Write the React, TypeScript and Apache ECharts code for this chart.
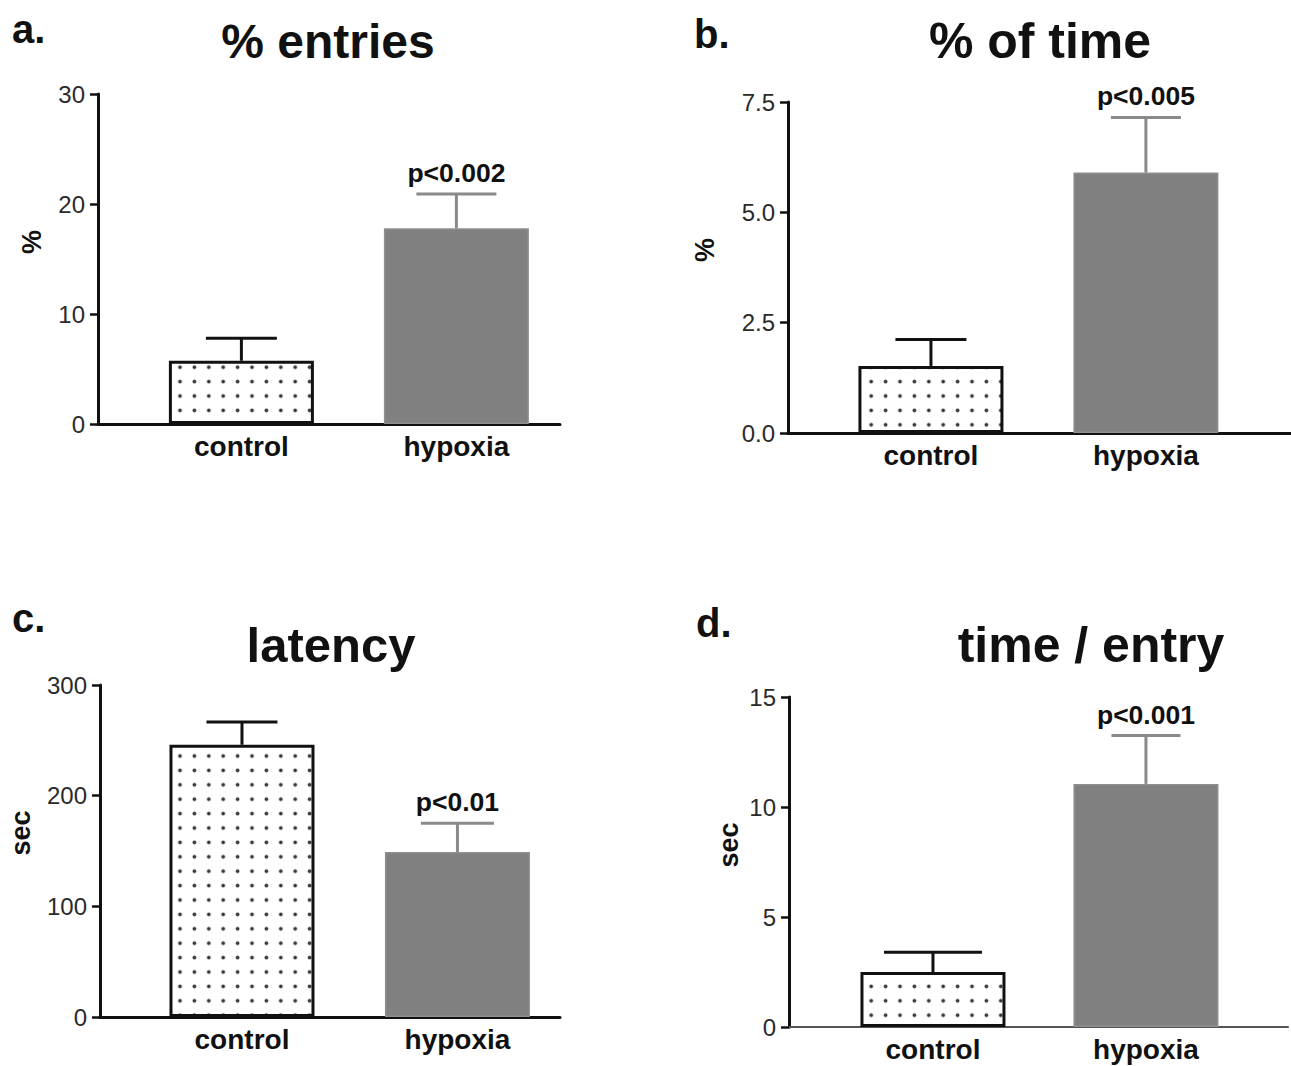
import React, { useEffect, useRef } from 'react';
import * as echarts from 'echarts';

// ---------- data ----------
const categories = ['control', 'hypoxia'];

const entriesMean = [5.75, 17.8];
const entriesErr = [2.05, 3.1];

const timePctMean = [1.52, 5.9];
const timePctErr = [0.6, 1.25];

const latencyMean = [246, 149];
const latencyErr = [20.5, 26];

const timePerEntryMean = [2.5, 11.05];
const timePerEntryErr = [0.9, 2.2];

const panelLetters = ['a.', 'b.', 'c.', 'd.'];
const panelTitles = ['% entries', '% of time', 'latency', 'time / entry'];
const yAxisNames = ['%', '%', 'sec', 'sec'];
const pValueLabels = ['p<0.002', 'p<0.005', 'p<0.01', 'p<0.001'];
const yMaxes = [30, 7.5, 300, 15];
const yIntervals = [10, 2.5, 100, 5];
const yDecimals = [0, 1, 0, 0];

const panelMeans = [entriesMean, timePctMean, latencyMean, timePerEntryMean];
const panelErrs = [entriesErr, timePctErr, latencyErr, timePerEntryErr];

// ---------- layout / style ----------
const FONT = "'Liberation Sans', Arial, Helvetica, sans-serif";

const layout = [
  { grid: { left: 98, top: 94, width: 462, height: 330 }, xMin: -0.667, xMax: 1.482,
    letter: [12, 29], title: [328, 41], titleSize: 48, yName: [32, 242], capW: [71, 80], xLineW: 3, xLineC: '#111' },
  { grid: { left: 788, top: 102, width: 503, height: 331 }, xMin: -0.665, xMax: 1.675,
    letter: [694, 34], title: [1040, 41], titleSize: 50, yName: [705, 250], capW: [71, 70], xLineW: 3, xLineC: '#111' },
  { grid: { left: 100, top: 685, width: 460, height: 332 }, xMin: -0.659, xMax: 1.476,
    letter: [12, 618], title: [331, 645], titleSize: 49, yName: [21, 833], capW: [71, 73], xLineW: 3, xLineC: '#111' },
  { grid: { left: 789, top: 697, width: 499, height: 330 }, xMin: -0.676, xMax: 1.667,
    letter: [696, 623], title: [1091, 645], titleSize: 50, yName: [729, 845], capW: [98, 69], xLineW: 2, xLineC: '#555' },
];

function dotPattern() {
  const s = 14.4;
  const svg =
    `<svg xmlns='http://www.w3.org/2000/svg' width='${s}' height='${s}' viewBox='0 0 ${s} ${s}'>` +
    `<rect width='${s}' height='${s}' fill='#ffffff'/>` +
    `<circle cx='${s / 2}' cy='${s / 2}' r='1.9' fill='#3a3a3a'/></svg>`;
  return {
    image: 'data:image/svg+xml;charset=utf-8,' + encodeURIComponent(svg),
    repeat: 'repeat',
    imageWidth: s,
    imageHeight: s,
  };
}

function buildOption() {
  const pattern = dotPattern();
  const grids: any[] = [];
  const xAxes: any[] = [];
  const yAxes: any[] = [];
  const series: any[] = [];
  const graphics: any[] = [];

  layout.forEach((L, i) => {
    grids.push({ ...L.grid, containLabel: false, outerBoundsMode: 'none' });
    xAxes.push({
      type: 'value',
      gridIndex: i,
      min: L.xMin,
      max: L.xMax,
      position: 'bottom',
      axisLine: { show: true, onZero: false, lineStyle: { color: L.xLineC, width: L.xLineW } },
      axisTick: { show: false },
      splitLine: { show: false },
      axisLabel: {
        customValues: [0, 1],
        formatter: (v: number) => categories[Math.round(v)] ?? '',
        fontSize: 28,
        fontWeight: 'bold',
        fontFamily: FONT,
        color: '#111',
        margin: 8,
      },
    });
    yAxes.push({
      type: 'value',
      gridIndex: i,
      min: 0,
      max: yMaxes[i],
      interval: yIntervals[i],
      position: 'left',
      axisLine: { show: true, onZero: false, lineStyle: { color: '#111', width: 3 } },
      axisTick: { show: true, length: 8, lineStyle: { color: '#111', width: 2.5 } },
      splitLine: { show: false },
      axisLabel: {
        formatter: (v: number) => v.toFixed(yDecimals[i]),
        fontSize: 24,
        fontFamily: FONT,
        color: '#2a2a2a',
        margin: 13,
      },
    });

    const means = panelMeans[i];
    const errs = panelErrs[i];

    series.push({
      type: 'bar',
      xAxisIndex: i,
      yAxisIndex: i,
      barWidth: 145,
      z: 2,
      data: categories.map((_, k) => ({
        value: [k, means[k]],
        itemStyle:
          k === 0
            ? { color: pattern, borderColor: '#111', borderWidth: 3 }
            : { color: '#808080', borderColor: '#8e8e8e', borderWidth: 1.5 },
      })),
    });

    series.push({
      type: 'custom',
      xAxisIndex: i,
      yAxisIndex: i,
      z: 5,
      clip: false,
      data: categories.map((_, k) => [k, means[k], errs[k]]),
      encode: { x: 0, y: 1 },
      renderItem: (params: any, api: any) => {
        const x = api.value(0);
        const v = api.value(1);
        const e = api.value(2);
        const k = params.dataIndex;
        const base = api.coord([x, v]);
        const top = api.coord([x, v + e]);
        const color = k === 0 ? '#111' : '#8a8a8a';
        const cw = L.capW[k];
        const children: any[] = [
          { type: 'line', shape: { x1: base[0], y1: base[1], x2: top[0], y2: top[1] }, style: { stroke: color, lineWidth: 3 } },
          { type: 'line', shape: { x1: top[0] - cw / 2, y1: top[1], x2: top[0] + cw / 2, y2: top[1] }, style: { stroke: color, lineWidth: 3 } },
        ];
        if (k === 1) {
          children.push({
            type: 'text',
            x: top[0],
            y: top[1] - 21,
            style: {
              text: pValueLabels[i],
              fill: '#111',
              fontSize: 26.5,
              fontWeight: 'bold',
              fontFamily: FONT,
              align: 'center',
              verticalAlign: 'middle',
              textAlign: 'center',
              textVerticalAlign: 'middle',
            },
          });
        }
        return { type: 'group', children };
      },
    });

    graphics.push({
      type: 'text',
      x: L.letter[0],
      y: L.letter[1],
      style: {
        text: panelLetters[i], fill: '#111', fontSize: 40, fontWeight: 'bold', fontFamily: FONT,
        align: 'left', verticalAlign: 'middle', textAlign: 'left', textVerticalAlign: 'middle',
      },
    });
    graphics.push({
      type: 'text',
      x: L.title[0],
      y: L.title[1],
      style: {
        text: panelTitles[i], fill: '#111', fontSize: L.titleSize, fontWeight: 'bold', fontFamily: FONT,
        align: 'center', verticalAlign: 'middle', textAlign: 'center', textVerticalAlign: 'middle',
      },
    });
    graphics.push({
      type: 'text',
      x: L.yName[0],
      y: L.yName[1],
      rotation: Math.PI / 2,
      style: {
        text: yAxisNames[i], fill: '#111', fontSize: 27, fontWeight: 'bold', fontFamily: FONT,
        align: 'center', verticalAlign: 'middle', textAlign: 'center', textVerticalAlign: 'middle',
      },
    });
  });

  return {
    animation: false,
    backgroundColor: '#ffffff',
    textStyle: { fontFamily: FONT },
    grid: grids,
    xAxis: xAxes,
    yAxis: yAxes,
    series,
    graphic: { elements: graphics },
  };
}

export default function App() {
  const ref = useRef<HTMLDivElement>(null);
  useEffect(() => {
    if (!ref.current) return;
    const chart = echarts.init(ref.current, undefined, { renderer: 'svg' });
    chart.setOption(buildOption() as any);
    return () => chart.dispose();
  }, []);
  return (
    <div
      ref={ref}
      style={{ position: 'absolute', left: 0, top: 0, width: 1291, height: 1066, background: '#fff' }}
    />
  );
}
